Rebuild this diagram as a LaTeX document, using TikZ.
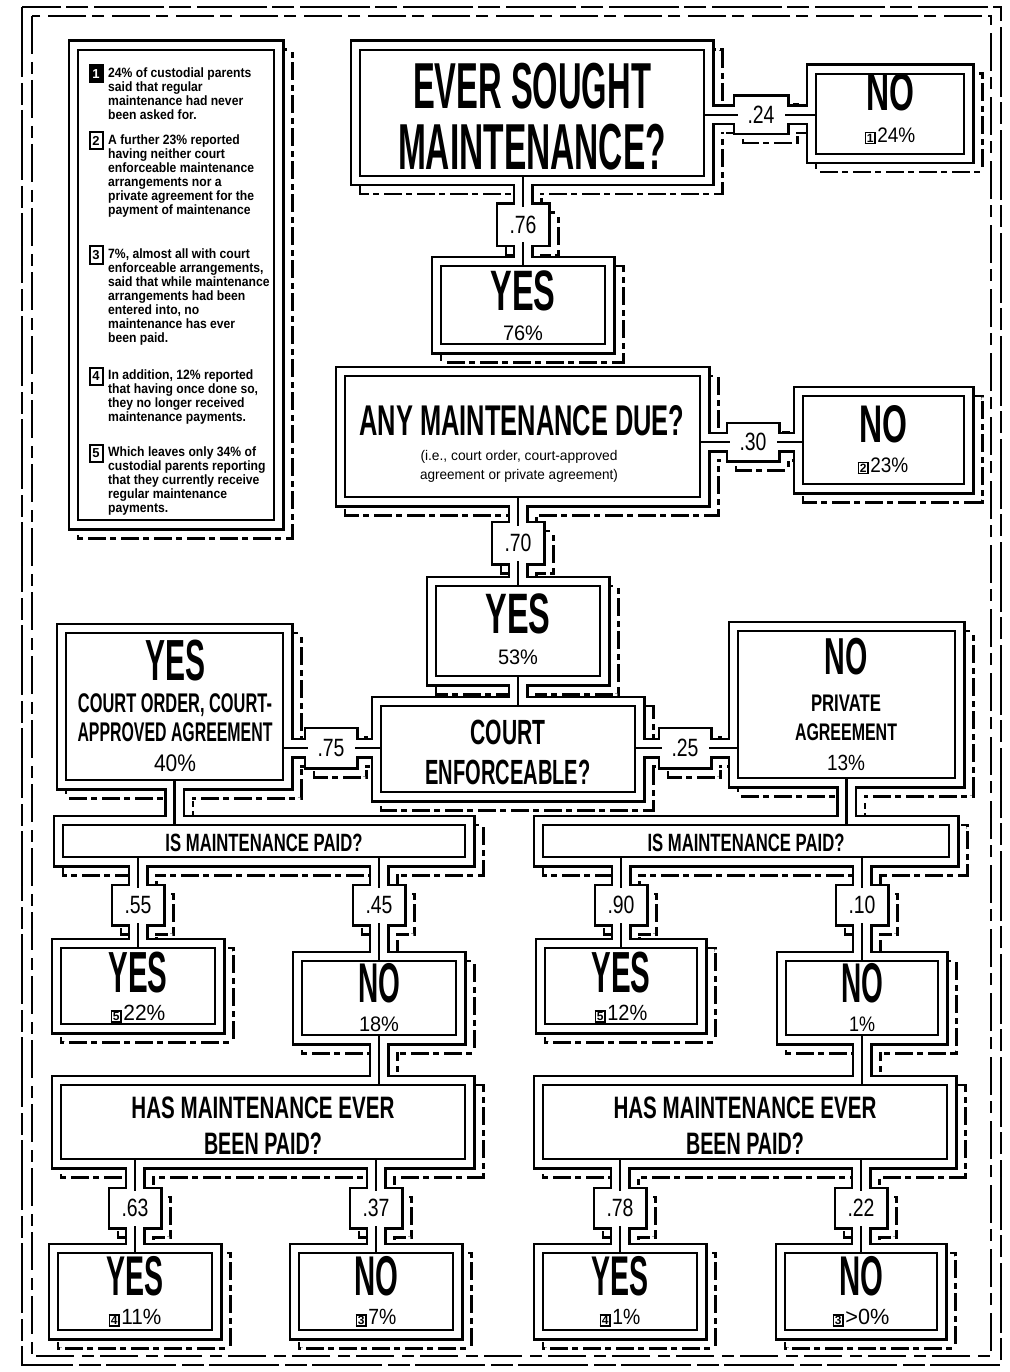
\documentclass[tikz,border=0pt]{standalone}
\usepackage{fontspec}
\setmainfont{Liberation Sans}
\newfontfamily\notefont[FakeStretch=0.9]{Liberation Sans}
\usepackage{graphicx}
\newcommand\wbd[3]{{\fontsize{#1}{#1}\selectfont\bfseries\resizebox{#2pt}{\height}{#3}}}
\newcommand\wrg[3]{{\fontsize{#1}{#1}\selectfont\resizebox{#2pt}{\height}{#3}}}
\newcommand\mkbox[1]{{\setlength{\fboxsep}{0.6pt}\setlength{\fboxrule}{1.6pt}\fbox{\fontsize{12}{12}\selectfont\bfseries #1}}}
\begin{document}
\begin{tikzpicture}[x=1pt,y=-1pt,
  ibox/.style={draw,line width=2.2pt,inner sep=0pt,outer sep=0pt},
  cl/.style={line width=2.2pt},
  lab/.style={fill=white,inner sep=0pt,minimum width=47pt,minimum height=35pt},
  t/.style={inner sep=0pt},
  notetxt/.style={inner sep=0pt,align=left,anchor=north west,font=\notefont\bfseries\fontsize{13.5}{14}\selectfont},
  marker/.style={draw,line width=2pt,inner sep=0pt,minimum width=13pt,minimum height=17pt,font=\bfseries\fontsize{13}{13}\selectfont},
  shadowline/.style={line width=5pt,dash pattern=on 18pt off 4pt on 6pt off 5pt},
  frameline/.style={line width=2.6pt,dash pattern=on 70pt off 6pt on 22pt off 5pt},
  frameline2/.style={line width=1.8pt,dash pattern=on 38pt off 8pt on 12pt off 6pt}]
\useasboundingbox (0,0) rectangle (1009,1372);
\fill[white] (0,0) rectangle (1009,1372);
% frame
\draw[frameline] (22,7) rectangle (1001,1365);
\draw[frameline2] (32,16) rectangle (991,1356);
% boxes (outer rectangles)
\def\boxes{q1/352/42/712/184, no1/808/66/972/162, yes1/433/258/613/352,
 q2/337/368/708/505, no2/795/388/972/492, yes2/428/578/608/684,
 q3/373/698/643/800, yesl/58/625/291/788, nor/730/623/963/786,
 isl/55/817/473/865, isr/535/817/957/865,
 yes3/53/940/223/1032, no3/294/953/464/1043, yes4/537/940/705/1032, no4/778/953/946/1043,
 hasl/53/1077/473/1167, hasr/535/1077/955/1167,
 yes5/50/1245/220/1338, no5/291/1245/461/1338, yes6/535/1245/705/1338, no6/777/1245/945/1338,
 note/70/42/282/528}
% channels and label bulges
\def\chans{700/107/816/123, 515/176/531/266, 700/434/803/450, 510/497/526/586,
 510/676/526/706, 283/740/381/756, 635/740/738/756, 166.5/780/182.5/825, 838.5/778/854.5/825,
 130/857/146/948, 371/857/387/961, 613/857/629/948, 854/857/870/961,
 371/1035/387/1085, 854/1035/870/1085,
 127/1159/143/1253, 368/1159/384/1253, 612/1159/628/1253, 853/1159/869/1253,
 735/97/787/133, 498/205/548/245, 728/424/778/460, 493/523/543/563,
 306/729/356/767, 660/729/710/767,
 113/886/163/924, 354/886/404/924, 596/886/646/924, 837/886/887/924,
 110/1189/160/1227, 351/1189/401/1227, 595/1189/645/1227, 836/1189/886/1227}
% shadow
\foreach \nm/\a/\b/\c/\d in \boxes {\draw[shadowline,shift={(9,9)}] (\a,\b) rectangle (\c,\d);}
\foreach \a/\b/\c/\d in \chans {\draw[shadowline,shift={(9,9)}] (\a,\b) rectangle (\c,\d);}
\foreach \nm/\a/\b/\c/\d in \boxes {\fill[white,shift={(9,9)}] (\a,\b) rectangle (\c,\d);}
\foreach \a/\b/\c/\d in \chans {\fill[white,shift={(9,9)}] (\a,\b) rectangle (\c,\d);}
% union outline
\foreach \nm/\a/\b/\c/\d in \boxes {\draw[line width=5pt] (\a,\b) rectangle (\c,\d);}
\foreach \a/\b/\c/\d in \chans {\draw[line width=5pt] (\a,\b) rectangle (\c,\d);}
\foreach \nm/\a/\b/\c/\d in \boxes {\fill[white] (\a,\b) rectangle (\c,\d);}
\foreach \a/\b/\c/\d in \chans {\fill[white] (\a,\b) rectangle (\c,\d);}
% inner boxes
\foreach \nm/\a/\b/\c/\d in \boxes {
  \pgfmathsetmacro\ww{\c-\a-16}\pgfmathsetmacro\hh{\d-\b-16}
  \node[ibox,minimum width=\ww pt,minimum height=\hh pt] (\nm) at ({(\a+\c)/2},{(\b+\d)/2}) {};}
% label coordinates
\coordinate (c24) at (761,115); \coordinate (c76) at (523,225);
\coordinate (c30) at (753,442); \coordinate (c70) at (518,543);
\coordinate (c75) at (331,748); \coordinate (c25) at (685,748);
\coordinate (c55) at (138,905); \coordinate (c45) at (379,905);
\coordinate (c90) at (621,905); \coordinate (c10) at (862,905);
\coordinate (c63) at (135,1208); \coordinate (c37) at (376,1208);
\coordinate (c78) at (620,1208); \coordinate (c22) at (861,1208);
% connector lines
\draw[cl] (c24 -| q1.east) -- (c24 -| no1.west);
\draw[cl] (c76 |- q1.south) -- (c76 |- yes1.north);
\draw[cl] (c30 -| q2.east) -- (c30 -| no2.west);
\draw[cl] (c70 |- q2.south) -- (c70 |- yes2.north);
\draw[cl] (yes2.south) -- (yes2.south |- q3.north);
\draw[cl] (c75 -| yesl.east) -- (c75 -| q3.west);
\draw[cl] (c25 -| q3.east) -- (c25 -| nor.west);
\draw[cl] (yesl.south) -- (yesl.south |- isl.north);
\draw[cl] (nor.south) -- (nor.south |- isr.north);
\draw[cl] (c55 |- isl.south) -- (c55 |- yes3.north);
\draw[cl] (c45 |- isl.south) -- (c45 |- no3.north);
\draw[cl] (c90 |- isr.south) -- (c90 |- yes4.north);
\draw[cl] (c10 |- isr.south) -- (c10 |- no4.north);
\draw[cl] (no3.south) -- (no3.south |- hasl.north);
\draw[cl] (no4.south) -- (no4.south |- hasr.north);
\draw[cl] (c63 |- hasl.south) -- (c63 |- yes5.north);
\draw[cl] (c37 |- hasl.south) -- (c37 |- no5.north);
\draw[cl] (c78 |- hasr.south) -- (c78 |- yes6.north);
\draw[cl] (c22 |- hasr.south) -- (c22 |- no6.north);
% labels
\node[lab] (l24) at (c24) {\wrg{25}{27}{.24}};
\node[lab] (l76) at (c76) {\wrg{25}{27}{.76}};
\node[lab] (l30) at (c30) {\wrg{25}{27}{.30}};
\node[lab] (l70) at (c70) {\wrg{25}{27}{.70}};
\node[lab] (l75) at (c75) {\wrg{25}{27}{.75}};
\node[lab] (l25) at (c25) {\wrg{25}{27}{.25}};
\node[lab] (l55) at (c55) {\wrg{25}{27}{.55}};
\node[lab] (l45) at (c45) {\wrg{25}{27}{.45}};
\node[lab] (l90) at (c90) {\wrg{25}{27}{.90}};
\node[lab] (l10) at (c10) {\wrg{25}{27}{.10}};
\node[lab] (l63) at (c63) {\wrg{25}{27}{.63}};
\node[lab] (l37) at (c37) {\wrg{25}{27}{.37}};
\node[lab] (l78) at (c78) {\wrg{25}{27}{.78}};
\node[lab] (l22) at (c22) {\wrg{25}{27}{.22}};
% box texts
\node[t] (q1a) at (532,86) {\wbd{65}{238}{EVER SOUGHT}};
\node[t] (q1b) at (532,147) {\wbd{65}{268}{MAINTENANCE?}};
\node[t] (no1a) at (890,92) {\wbd{53}{48}{NO}};
\node[t] (no1b) at (890,136) {\mkbox{1}\,\wrg{21}{38}{24\%}};
\node[t] (yes1a) at (523,291) {\wbd{57}{65}{YES}};
\node[t] (yes1b) at (523,333) {\wrg{21}{40}{76\%}};
\node[t] (q2a) at (522,421) {\wbd{43}{325}{ANY MAINTENANCE DUE?}};
\node[t] (q2b) at (519,457) {\wrg{14}{197}{(i.e., court order, court-approved}};
\node[t] (q2c) at (519,476) {\wrg{14}{198}{agreement or private agreement)}};
\node[t] (no2a) at (883,424) {\wbd{53}{48}{NO}};
\node[t] (no2b) at (883,466) {\mkbox{2}\,\wrg{21}{38}{23\%}};
\node[t] (yes2a) at (518,614) {\wbd{57}{65}{YES}};
\node[t] (yes2b) at (518,657) {\wrg{21}{40}{53\%}};
\node[t] (q3a) at (508,732) {\wbd{35}{75}{COURT}};
\node[t] (q3b) at (508,772) {\wbd{35}{165}{ENFORCEABLE?}};
\node[t] (yla) at (175,661) {\wbd{58}{60}{YES}};
\node[t] (ylb) at (175,705) {\wbd{27}{194}{COURT ORDER, COURT-}};
\node[t] (ylc) at (175,732) {\wbd{27}{195}{APPROVED AGREEMENT}};
\node[t] (yld) at (175,763) {\wrg{24}{42}{40\%}};
\node[t] (nra) at (846,657) {\wbd{52}{43}{NO}};
\node[t] (nrb) at (846,703) {\wbd{24}{70}{PRIVATE}};
\node[t] (nrc) at (846,732) {\wbd{24}{102}{AGREEMENT}};
\node[t] (nrd) at (846,763) {\wrg{22}{38}{13\%}};
\node[t] (isla) at (264,843) {\wbd{25}{197}{IS MAINTENANCE PAID?}};
\node[t] (isra) at (746,843) {\wbd{25}{197}{IS MAINTENANCE PAID?}};
\node[t] (y3a) at (138,973) {\wbd{58}{59}{YES}};
\node[t] (y3b) at (138,1014) {\mkbox{5}\,\wrg{22}{42}{22\%}};
\node[t] (n3a) at (379,983) {\wbd{56}{42}{NO}};
\node[t] (n3b) at (379,1024) {\wrg{21}{40}{18\%}};
\node[t] (y4a) at (621,973) {\wbd{58}{59}{YES}};
\node[t] (y4b) at (621,1014) {\mkbox{5}\,\wrg{22}{40}{12\%}};
\node[t] (n4a) at (862,983) {\wbd{56}{42}{NO}};
\node[t] (n4b) at (862,1024) {\wrg{21}{26}{1\%}};
\node[t] (hla) at (263,1108) {\wbd{31}{263}{HAS MAINTENANCE EVER}};
\node[t] (hlb) at (263,1144) {\wbd{31}{118}{BEEN PAID?}};
\node[t] (hra) at (745,1108) {\wbd{31}{263}{HAS MAINTENANCE EVER}};
\node[t] (hrb) at (745,1144) {\wbd{31}{118}{BEEN PAID?}};
\node[t] (y5a) at (135,1276) {\wbd{56}{57}{YES}};
\node[t] (y5b) at (135,1318) {\mkbox{4}\,\wrg{22}{40}{11\%}};
\node[t] (n5a) at (376,1276) {\wbd{56}{44}{NO}};
\node[t] (n5b) at (376,1318) {\mkbox{3}\,\wrg{22}{28}{7\%}};
\node[t] (y6a) at (620,1276) {\wbd{56}{57}{YES}};
\node[t] (y6b) at (620,1318) {\mkbox{4}\,\wrg{22}{28}{1\%}};
\node[t] (n6a) at (861,1276) {\wbd{56}{44}{NO}};
\node[t] (n6b) at (861,1318) {\mkbox{3}\,\wrg{22}{44}{>0\%}};
% side notes
\node[marker,fill=black,text=white] (m1) at (96,74) {1};
\node[marker] (m2) at (96,141) {2};
\node[marker] (m3) at (96,255) {3};
\node[marker] (m4) at (96,376) {4};
\node[marker] (m5) at (96,453) {5};
\node[notetxt] (n1) at (108,68) {24\% of custodial parents\\said that regular\\maintenance had never\\been asked for.};
\node[notetxt] (n2) at (108,135) {A further 23\% reported\\having neither court\\enforceable maintenance\\arrangements nor a\\private agreement for the\\payment of maintenance};
\node[notetxt] (n3) at (108,249) {7\%, almost all with court\\enforceable arrangements,\\said that while maintenance\\arrangements had been\\entered into, no\\maintenance has ever\\been paid.};
\node[notetxt] (n4) at (108,370) {In addition, 12\% reported\\that having once done so,\\they no longer received\\maintenance payments.};
\node[notetxt] (n5) at (108,447) {Which leaves only 34\% of\\custodial parents reporting\\that they currently receive\\regular maintenance\\payments.};
\end{tikzpicture}
\end{document}
